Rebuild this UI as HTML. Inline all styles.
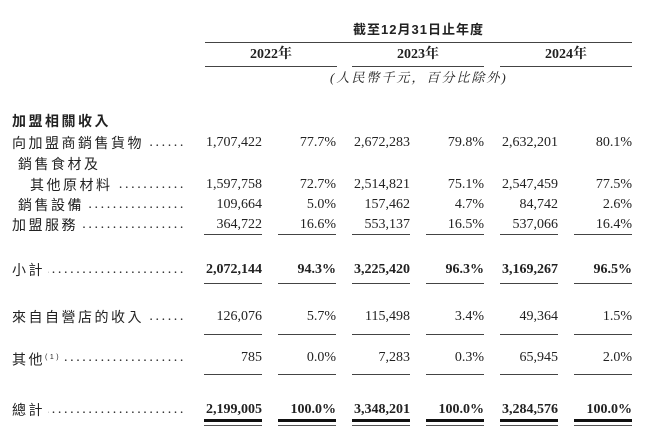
<!DOCTYPE html>
<html><head><meta charset="utf-8"><style>
body{margin:0;width:650px;height:446px;background:#fff;position:relative;overflow:hidden;color:#222;font-family:"Liberation Serif","Noto Serif CJK SC",serif;}
.t{position:absolute;font-size:14px;line-height:16px;white-space:nowrap;}
.l{font-family:"Liberation Sans","Noto Sans CJK TC",sans-serif;font-size:14px;letter-spacing:2.5px;left:12px;width:174px;display:flex;}
.l .d{flex:1;overflow:hidden;direction:rtl;letter-spacing:2.6px;font-family:"Liberation Serif",serif;margin-left:3px;}
.n{text-align:right;}
.b{font-weight:bold;}
.ln{position:absolute;height:1px;background:#444;}
</style></head><body>
<div class="t b" style="left:205px;width:427px;top:22px;text-align:center;font-family:'Liberation Sans','Noto Sans CJK TC',sans-serif;font-size:13px;letter-spacing:1px">截至12月31日止年度</div>
<div class="ln" style="left:205px;width:427px;top:42px"></div>
<div class="t b" style="left:205px;width:132px;top:47px;text-align:center">2022年</div>
<div class="t b" style="left:352px;width:132px;top:47px;text-align:center">2023年</div>
<div class="t b" style="left:500px;width:132px;top:47px;text-align:center">2024年</div>
<div class="ln" style="left:205px;width:132px;top:66px"></div>
<div class="ln" style="left:352px;width:132px;top:66px"></div>
<div class="ln" style="left:500px;width:132px;top:66px"></div>
<div class="t" style="left:330px;top:70px;font-style:italic;letter-spacing:2px;font-size:13px">(人民幣千元，百分比除外)</div>

<div class="t l b" style="top:113px">加盟相關收入</div>
<div class="t l" style="top:135px"><span>向加盟商銷售貨物</span><span class="d">..............................</span></div>
<div class="t l" style="top:156px;left:18px"><span>銷售食材及</span></div>
<div class="t l" style="top:177px;left:30px;width:156px"><span>其他原材料</span><span class="d">..............................</span></div>
<div class="t l" style="top:197px;left:18px;width:168px"><span>銷售設備</span><span class="d">..............................</span></div>
<div class="t l" style="top:217px"><span>加盟服務</span><span class="d">..............................</span></div>
<div class="t l" style="top:262px"><span>小計</span><span class="d">..............................</span></div>
<div class="t l" style="top:309px"><span>來自自營店的收入</span><span class="d">..............................</span></div>
<div class="t l" style="top:350px"><span>其他<sup style="font-size:7px">(1)</sup></span><span class="d">..............................</span></div>
<div class="t l" style="top:402px"><span>總計</span><span class="d">..............................</span></div>

<div id="nums"></div>
<script>
var R=[262,336,410,484,558,632];
var rows=[
[135,["1,707,422","77.7%","2,672,283","79.8%","2,632,201","80.1%"],0],
[177,["1,597,758","72.7%","2,514,821","75.1%","2,547,459","77.5%"],0],
[197,["109,664","5.0%","157,462","4.7%","84,742","2.6%"],0],
[217,["364,722","16.6%","553,137","16.5%","537,066","16.4%"],0],
[262,["2,072,144","94.3%","3,225,420","96.3%","3,169,267","96.5%"],1],
[309,["126,076","5.7%","115,498","3.4%","49,364","1.5%"],0],
[350,["785","0.0%","7,283","0.3%","65,945","2.0%"],0],
[402,["2,199,005","100.0%","3,348,201","100.0%","3,284,576","100.0%"],1]];
var h="";
rows.forEach(function(r){r[1].forEach(function(v,i){h+='<div class="t n'+(r[2]?' b':'')+'" style="left:'+(R[i]-100)+'px;width:100px;top:'+r[0]+'px">'+v+'</div>';});});
[234,283,334,374].forEach(function(y){R.forEach(function(x){h+='<div class="ln" style="left:'+(x-58)+'px;width:58px;top:'+y+'px"></div>';});});
R.forEach(function(x){h+='<div class="ln" style="left:'+(x-58)+'px;width:58px;top:419px;height:3px;background:#111"></div><div class="ln" style="left:'+(x-58)+'px;width:58px;top:425px;height:1px;background:#555"></div>';});
document.getElementById("nums").innerHTML=h;
</script>
</body></html>
